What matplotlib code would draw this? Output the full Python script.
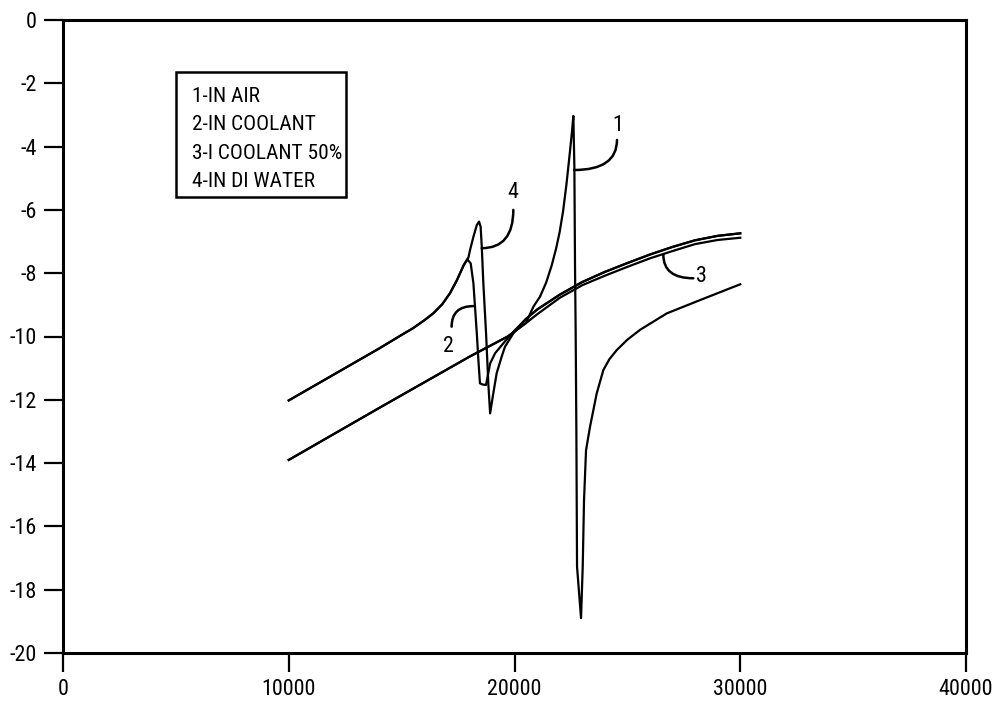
import matplotlib
matplotlib.use("Agg")
from matplotlib import pyplot as plt
from matplotlib import font_manager
from matplotlib.patches import Rectangle

# the scan uses a narrow sans font, take one if installed
fonts = font_manager.fontManager.ttflist
font, stretch = "Liberation Sans", "normal"
for f in fonts:
    if f.name in ("Liberation Sans Narrow", "Arial Narrow", "Roboto Condensed"):
        font, stretch = f.name, "normal"
        break
else:
    for f in fonts:
        if f.name == "DejaVu Sans" and str(f.stretch) in ("condensed", "semi-condensed"):
            font, stretch = f.name, "condensed"
            break
plt.rcParams['font.family'] = [font, 'DejaVu Sans']
plt.rcParams['font.stretch'] = stretch
plt.rcParams['axes.unicode_minus'] = False

# curve 3 - coolant 50% (lower baseline)
x_3 = [10000, 12000, 14000, 16000, 18000, 19700, 20500, 21000, 22000, 23000,
       24000, 25000, 26000, 27000, 28000, 29000, 30000]
y_3 = [-13.9, -13.08, -12.26, -11.45, -10.64, -10.0, -9.58, -9.3, -8.78, -8.38,
       -8.08, -7.8, -7.53, -7.3, -7.08, -6.95, -6.88]

# curve 2 - in coolant
x_2 = [10000, 12000, 14000, 15000, 15500, 16000, 16400, 16800, 17144, 17450,
       17740, 17910, 18060, 18180, 18330, 18400, 18470, 18600, 18740, 18920,
       19140, 19500, 19950, 20500, 21000, 22000, 23000, 24000, 25000, 26000,
       27000, 28000, 29000, 30000]
y_2 = [-12.02, -11.2, -10.38, -9.95, -9.74, -9.49, -9.27, -8.98, -8.63, -8.22,
       -7.76, -7.56, -7.69, -8.32, -9.9, -10.74, -11.48, -11.52, -11.53, -10.85,
       -10.53, -10.22, -9.85, -9.45, -9.15, -8.68, -8.28, -7.96, -7.68, -7.41,
       -7.17, -6.96, -6.82, -6.74]

# curve 4 - in DI water
x_4 = [10000, 12000, 14000, 15000, 15500, 16000, 16400, 16800, 17144, 17450,
       17740, 17960, 18030, 18180, 18330, 18430, 18500, 18550, 18620, 18740,
       18840, 18920, 19060, 19210, 19430, 19580, 19950, 20500, 21000, 22000,
       23000, 24000, 25000, 26000, 27000, 28000, 29000, 30000]
y_4 = [-12.02, -11.2, -10.38, -9.95, -9.74, -9.49, -9.27, -8.98, -8.63, -8.22,
       -7.76, -7.5, -7.27, -6.85, -6.48, -6.37, -6.53, -7.16, -8.32, -9.9,
       -11.48, -12.43, -11.8, -11.16, -10.64, -10.32, -9.9, -9.45, -9.15, -8.68,
       -8.28, -7.96, -7.68, -7.41, -7.17, -6.96, -6.82, -6.74]

# curve 1 - in air
x_1 = [10000, 12000, 14000, 16000, 18000, 19700, 20500, 20836, 21131, 21400,
       21650, 21850, 22000, 22150, 22300, 22450, 22550, 22607, 22652, 22681,
       22710, 22741, 22770, 22947, 23022, 23080, 23169, 23346, 23641, 23936,
       24200, 24528, 25000, 25561, 26744, 28217, 30000]
y_1 = [-13.9, -13.08, -12.26, -11.45, -10.64, -10.0, -9.58, -9.06, -8.74, -8.3,
       -7.75, -7.2, -6.7, -6.05, -5.2, -4.2, -3.5, -3.03, -4.63, -7.8,
       -9.9, -13.06, -17.27, -18.9, -17.27, -15.17, -13.59, -12.85, -11.8, -11.06,
       -10.72, -10.43, -10.1, -9.79, -9.27, -8.85, -8.35]

legend_lines = ["1-IN AIR", "2-IN COOLANT", "3-I COOLANT 50%", "4-IN DI WATER"]

fig = plt.figure(figsize=(9.93, 7.04), dpi=100)
ax = fig.add_axes([63/993, 1-653/704, 903/993, 633/704])
renderer = fig.canvas.get_renderer()

# font size that makes a string about 'width' pixels wide
def fit_size(s, width, biggest):
    t = fig.text(0, 0, s, fontsize=10)
    w = t.get_window_extent(renderer).width
    t.remove()
    return min(biggest, 10 * width / w)

tick_size = fit_size("40000", 54, 17)
legend_size = fit_size("3-I COOLANT 50%", 150, 18)

for xs, ys in ((x_3, y_3), (x_2, y_2), (x_4, y_4), (x_1, y_1)):
    ax.plot(xs, ys, color='black', linewidth=1.6, solid_joinstyle='round')

ax.set_xlim(0, 40000)
ax.set_ylim(-20, 0)
ax.set_xticks(range(0, 40001, 10000))
ax.set_yticks(range(-20, 1, 2))
for s in ax.spines.values():
    s.set_linewidth(2.2)
ax.tick_params(direction='out', length=14, width=1.6, labelsize=tick_size)
ax.tick_params(axis='x', pad=5)
ax.tick_params(axis='y', pad=5)

# legend box
ax.add_patch(Rectangle((5006, -5.58), 7530, 3.95, fill=False, linewidth=1.8, zorder=3))
for i, txt in enumerate(legend_lines):
    ax.text(5700, -2.58 - i*0.9, txt, fontsize=legend_size, va='baseline', ha='left')

# curve labels with leader lines
lead = dict(arrowstyle='-', color='black', linewidth=1.8, shrinkA=0, shrinkB=0)
ax.annotate('', xy=(22640, -4.74), xytext=(24540, -3.79),
            arrowprops=dict(lead, connectionstyle='angle3,angleA=90,angleB=0'))
ax.text(24570, -3.32, '1', fontsize=tick_size, ha='center', va='center')

ax.annotate('', xy=(18547, -7.21), xytext=(19948, -6.0),
            arrowprops=dict(lead, connectionstyle='angle3,angleA=90,angleB=0'))
ax.text(19935, -5.45, '4', fontsize=tick_size, ha='center', va='center')

ax.annotate('', xy=(18175, -9.04), xytext=(17215, -9.69),
            arrowprops=dict(lead, connectionstyle='angle3,angleA=90,angleB=0'))
ax.text(17066, -10.32, '2', fontsize=tick_size, ha='center', va='center')

ax.annotate('', xy=(26594, -7.42), xytext=(27922, -8.16),
            arrowprops=dict(lead, connectionstyle='angle3,angleA=0,angleB=90'))
ax.text(28290, -8.11, '3', fontsize=tick_size, ha='center', va='center')

fig.savefig("out.png", dpi=100)
